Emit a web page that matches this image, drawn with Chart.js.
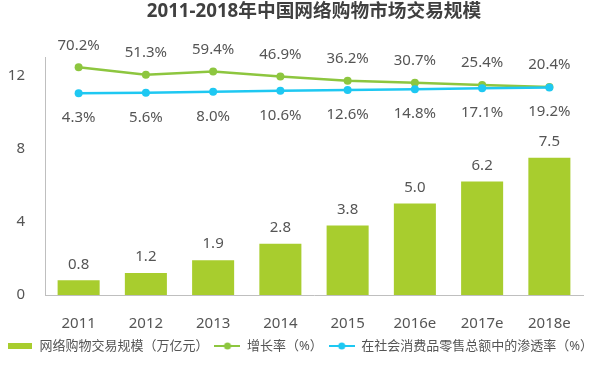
<!DOCTYPE html>
<html lang="zh">
<head>
  <meta charset="UTF-8">
  <title>2011-2018年中国网络购物市场交易规模</title>
  <script src="https://cdn.jsdelivr.net/npm/chart.js"></script>
  <style>
    body { margin: 0; background: #fff; }
    #wrap { width: 600px; height: 366px; }
  </style>
</head>
<body>
  <div id="wrap"><canvas id="shopChart" width="600" height="366"></canvas></div>
  <script>
    const years = ["2011", "2012", "2013", "2014", "2015", "2016e", "2017e", "2018e"];
    const scale = [0.8, 1.2, 1.9, 2.8, 3.8, 5.0, 6.2, 7.5];          // 万亿元
    const growth = [70.2, 51.3, 59.4, 46.9, 36.2, 30.7, 25.4, 20.4];  // %
    const share = [4.3, 5.6, 8.0, 10.6, 12.6, 14.8, 17.1, 19.2];      // %
    const yTicks = [0, 4, 8, 12];

    const barColor = "#a8cd2e";
    const greenColor = "#8dc63f";
    const cyanColor = "#1ec8f2";
    const textColor = "#555";
    const fontFamily = '"Noto Sans", "Noto Sans CJK SC", sans-serif';

    // little pictures for the legend markers
    function makeMarker(kind, color) {
      const c = document.createElement("canvas");
      c.width = 26;
      c.height = 10;
      const g = c.getContext("2d");
      g.fillStyle = color;
      if (kind === "box") {
        g.fillRect(1, 2, 24, 6);
      } else {
        g.strokeStyle = color;
        g.lineWidth = 2;
        g.beginPath();
        g.moveTo(0, 5);
        g.lineTo(26, 5);
        g.stroke();
        g.beginPath();
        g.arc(13, 5, 3.5, 0, Math.PI * 2);
        g.fill();
      }
      return c;
    }
    const markers = [makeMarker("box", barColor), makeMarker("line", greenColor), makeMarker("line", cyanColor)];

    // numbers above bars / above and below the points
    const valueLabels = {
      id: "valueLabels",
      afterDatasetsDraw(chart) {
        const ctx = chart.ctx;
        ctx.save();
        ctx.font = "15px " + fontFamily;
        ctx.fillStyle = textColor;
        ctx.textAlign = "center";
        ctx.textBaseline = "middle";
        chart.data.datasets.forEach((ds, i) => {
          chart.getDatasetMeta(i).data.forEach((el, j) => {
            const v = ds.data[j];
            if (i === 0) {
              ctx.fillText(v.toFixed(1), el.x, el.y - 16);
            } else if (i === 1) {
              ctx.fillText(v.toFixed(1) + "%", el.x, el.y - 22);
            } else {
              ctx.fillText(v.toFixed(1) + "%", el.x, el.y + 24.5);
            }
          });
        });
        ctx.restore();
      }
    };

    new Chart(document.getElementById("shopChart"), {
      data: {
        labels: years,
        datasets: [
          {
            type: "bar",
            label: "网络购物交易规模（万亿元）",
            data: scale,
            backgroundColor: barColor,
            barPercentage: 0.625,
            categoryPercentage: 1,
            yAxisID: "y",
            order: 2
          },
          {
            type: "line",
            label: "增长率（%）",
            data: growth,
            borderColor: greenColor,
            backgroundColor: greenColor,
            borderWidth: 2.5,
            pointRadius: 4,
            pointBorderWidth: 0,
            yAxisID: "y2",
            order: 1
          },
          {
            type: "line",
            label: "在社会消费品零售总额中的渗透率（%）",
            data: share,
            borderColor: cyanColor,
            backgroundColor: cyanColor,
            borderWidth: 2.5,
            pointRadius: 4,
            pointBorderWidth: 0,
            yAxisID: "y2",
            order: 0
          }
        ]
      },
      options: {
        responsive: false,
        animation: false,
        devicePixelRatio: 1,
        layout: { padding: { top: 0, left: 0, right: 0, bottom: 3.5 } },
        scales: {
          x: {
            grid: { display: false },
            border: { display: true, color: "#bfbfbf", width: 1 },
            ticks: { color: textColor, font: { family: fontFamily, size: 15 }, padding: 12 },
            afterFit: (s) => { s.height = 38.5; }
          },
          y: {
            position: "left",
            min: 0,
            max: 13,
            grid: { display: false, drawTicks: false },
            border: { display: true, color: "#bfbfbf", width: 1 },
            ticks: { color: textColor, font: { family: fontFamily, size: 15 }, padding: 20 },
            afterBuildTicks: (s) => { s.ticks = yTicks.map(v => ({ value: v })); },
            afterFit: (s) => { s.width = 45; }
          },
          y2: {
            position: "right",
            min: -506,
            max: 96,
            grid: { display: false, drawTicks: false },
            border: { display: false },
            ticks: { display: false },
            afterFit: (s) => { s.width = 17; }
          }
        },
        plugins: {
          title: {
            display: true,
            text: "2011-2018年中国网络购物市场交易规模",
            fullSize: false,
            color: "#404040",
            font: { family: fontFamily, size: 18.7, weight: "bold" },
            padding: { top: 0, bottom: 34.6 }
          },
          legend: {
            position: "bottom",
            labels: {
              usePointStyle: true,
              pointStyleWidth: 26,
              padding: 6,
              color: textColor,
              font: { family: fontFamily, size: 13 },
              sort: (a, b) => a.datasetIndex - b.datasetIndex,
              generateLabels: (chart) => {
                const items = Chart.defaults.plugins.legend.labels.generateLabels(chart);
                items.forEach(it => { it.pointStyle = markers[it.datasetIndex]; });
                return items;
              }
            }
          },
          tooltip: { enabled: false }
        }
      },
      plugins: [valueLabels]
    });
  </script>
</body>
</html>
